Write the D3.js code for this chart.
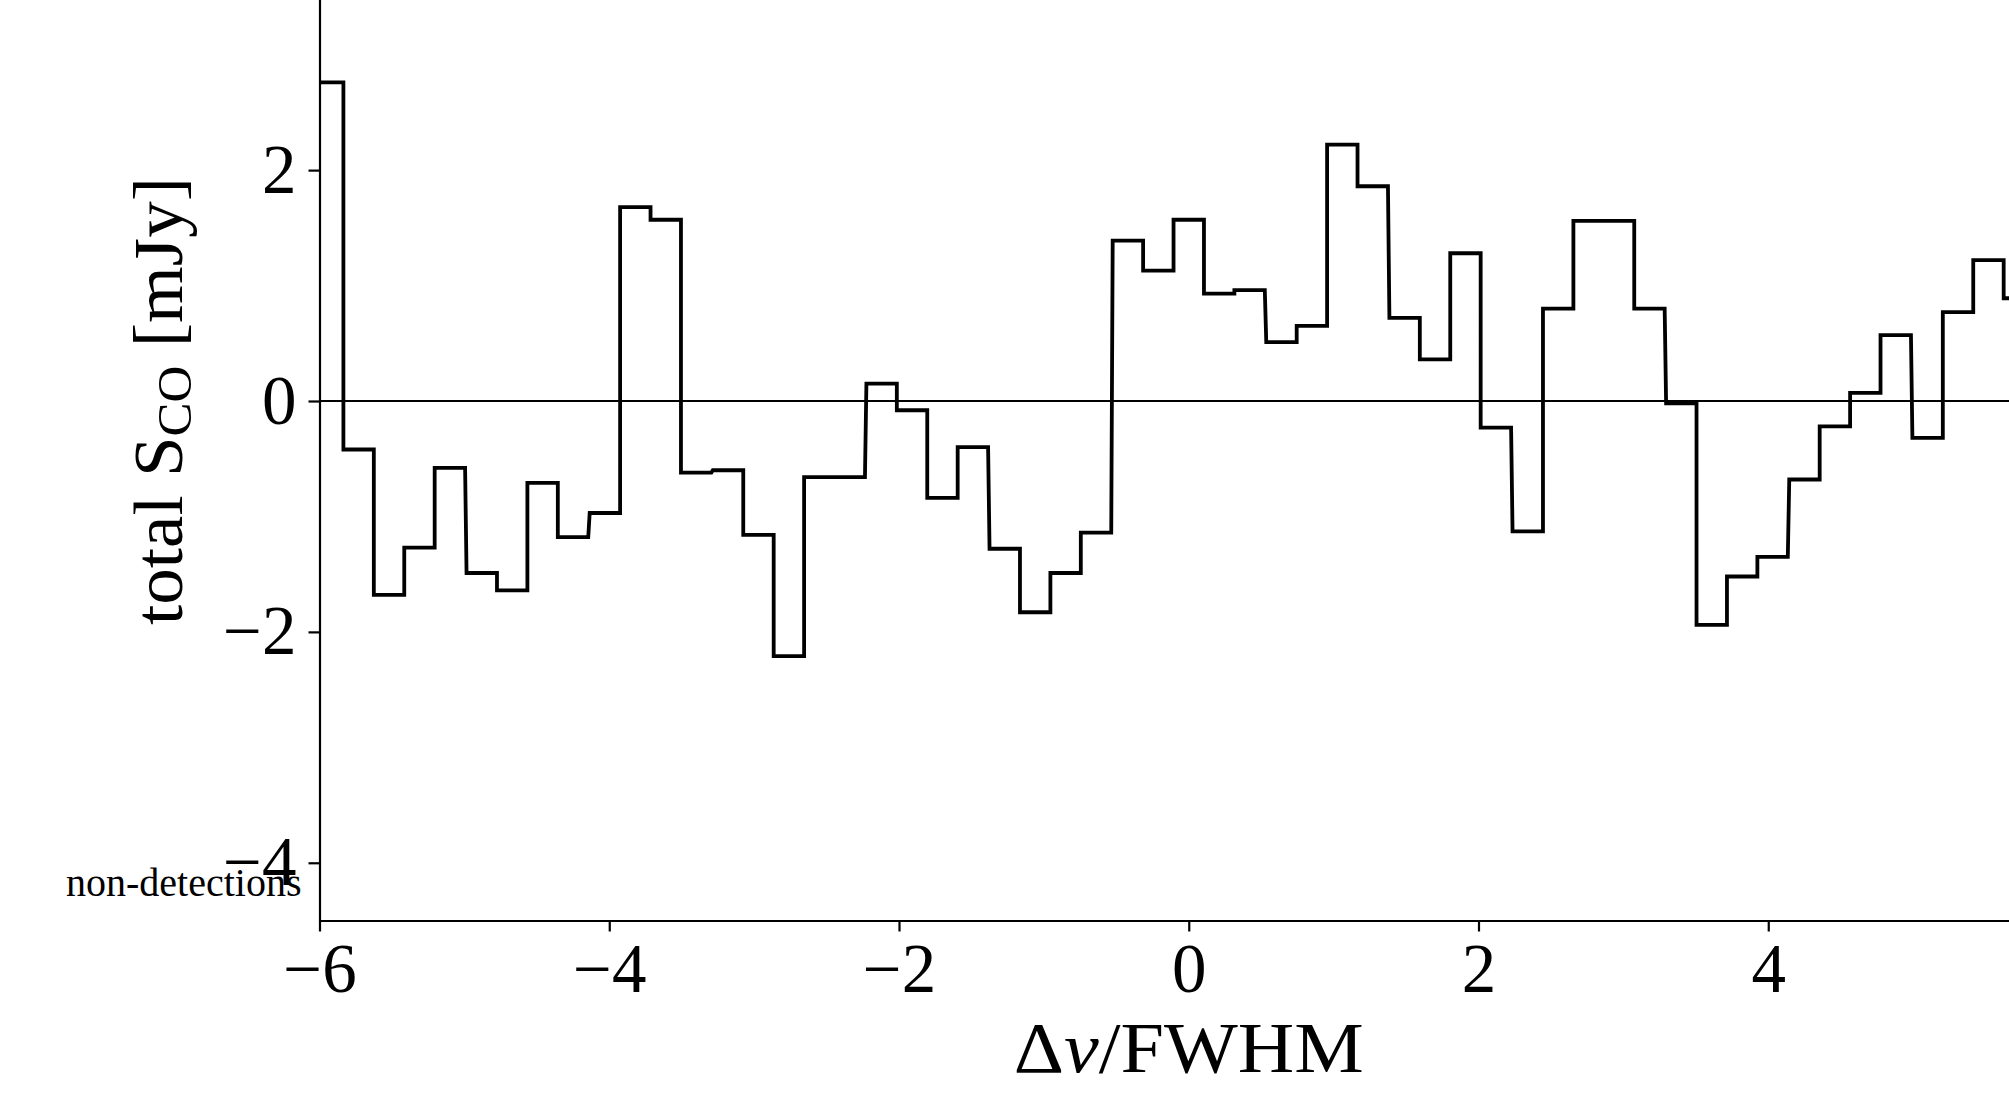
<!DOCTYPE html>
<html>
<head>
<meta charset="utf-8">
<script src="https://cdn.jsdelivr.net/npm/d3@7"></script>
<style>
  html, body { margin: 0; padding: 0; background: #fff; }
  svg { display: block; }
  text { font-family: "Liberation Serif", "DejaVu Serif", serif; fill: #000; }
</style>
</head>
<body>
<svg id="chart" width="2009" height="1119"></svg>
<script>
// bin centres in units of FWHM
const binCenters = [
  -5.94, -5.73, -5.52, -5.31, -5.10, -4.88, -4.67, -4.46, -4.25, -4.03,
  -3.82, -3.61, -3.40, -3.18, -2.97, -2.76, -2.55, -2.34, -2.12, -1.91,
  -1.70, -1.49, -1.27, -1.06, -0.85, -0.64, -0.42, -0.21, 0.00, 0.21,
  0.42, 0.64, 0.85, 1.06, 1.27, 1.49, 1.70, 1.91, 2.12, 2.34,
  2.55, 2.76, 2.97, 3.18, 3.40, 3.61, 3.82, 4.03, 4.25, 4.46,
  4.67, 4.88, 5.10, 5.31, 5.52, 5.73
];

// stacked flux per bin [mJy]
const fluxValues = [
  2.76, -0.42, -1.68, -1.27, -0.58, -1.49, -1.64, -0.71, -1.18, -0.97,
  1.68, 1.57, -0.62, -0.60, -1.16, -2.21, -0.66, -0.66, 0.15, -0.08,
  -0.84, -0.40, -1.28, -1.83, -1.49, -1.14, 1.39, 1.13, 1.57, 0.93,
  0.96, 0.51, 0.65, 2.22, 1.86, 0.72, 0.36, 1.28, -0.23, -1.13,
  0.80, 1.56, 1.56, 0.80, -0.02, -1.94, -1.52, -1.35, -0.68, -0.22,
  0.07, 0.57, -0.32, 0.77, 1.22, 0.89
];

// only the ticks that fall inside the visible crop
const xTicks = [-6, -4, -2, 0, 2, 4];
const yTicks = [-4, -2, 0, 2];
const xDomain = [-6, 6];
const yDomain = [-4.5, 4.5];
const panelLabel = "non-detections";

const svg = d3.select("#chart");
const plotLeft = 319.5, plotRight = 2058, plotTop = -118.5, plotBottom = 920.5;

const x = d3.scaleLinear().domain(xDomain).range([plotLeft, plotRight]);
const y = d3.scaleLinear().domain(yDomain).range([plotBottom, plotTop]);

svg.append("rect").attr("width", 2009).attr("height", 1119).attr("fill", "#fff");

svg.append("clipPath").attr("id", "plotClip")
  .append("rect")
  .attr("x", plotLeft).attr("y", plotTop)
  .attr("width", plotRight - plotLeft).attr("height", plotBottom - plotTop);

// zero line
svg.append("line")
  .attr("x1", x(xDomain[0])).attr("x2", x(xDomain[1]))
  .attr("y1", y(0)).attr("y2", y(0))
  .attr("stroke", "#000").attr("stroke-width", 2.2);

// step outline, each bin spans half way to its neighbours
const halfW = (binCenters[1] - binCenters[0]) / 2;
const stepPts = [];
binCenters.forEach((c, i) => {
  stepPts.push([c - halfW, fluxValues[i]]);
  stepPts.push([c + halfW, fluxValues[i]]);
});

const stepLine = d3.line()
  .x(d => x(d[0]))
  .y(d => y(d[1]));

svg.append("path")
  .datum(stepPts)
  .attr("clip-path", "url(#plotClip)")
  .attr("d", stepLine)
  .attr("fill", "none")
  .attr("stroke", "#000")
  .attr("stroke-width", 3.8)
  .attr("stroke-linejoin", "miter")
  .attr("stroke-linecap", "square");

// axes
const xAxis = svg.append("g")
  .attr("transform", `translate(0,${plotBottom})`)
  .call(d3.axisBottom(x).tickValues(xTicks).tickSize(11).tickSizeOuter(0).tickPadding(12));

const yAxis = svg.append("g")
  .attr("transform", `translate(${plotLeft},0)`)
  .call(d3.axisLeft(y).tickValues(yTicks).tickSize(11).tickSizeOuter(0).tickPadding(12));

[xAxis, yAxis].forEach(g => {
  g.select(".domain").attr("stroke", "#000").attr("stroke-width", 2.2);
  g.selectAll(".tick line").attr("stroke", "#000").attr("stroke-width", 2.2);
  g.selectAll(".tick text")
    .attr("fill", "#000")
    .style("font-family", '"Liberation Serif", serif')
    .style("font-size", "69px");
});

// axis labels
const xLab = svg.append("text")
  .attr("x", x(0))
  .attr("y", 1072)
  .attr("text-anchor", "middle")
  .attr("textLength", 350)
  .attr("lengthAdjust", "spacingAndGlyphs")
  .style("font-size", "72px");
xLab.append("tspan").text("Δ");
xLab.append("tspan").style("font-style", "italic").text("v");
xLab.append("tspan").text("/FWHM");

const yLab = svg.append("text")
  .attr("transform", `translate(182,${y(0)}) rotate(-90)`)
  .attr("text-anchor", "middle")
  .attr("textLength", 448)
  .attr("lengthAdjust", "spacingAndGlyphs")
  .style("font-size", "70px");
yLab.append("tspan").text("total S");
yLab.append("tspan").attr("dy", 9).style("font-size", "49px").text("CO");
yLab.append("tspan").attr("dy", -9).text(" [mJy]");

// panel label
svg.append("text")
  .attr("x", 66)
  .attr("y", 896)
  .style("font-size", "40px")
  .text(panelLabel);
</script>
</body>
</html>
